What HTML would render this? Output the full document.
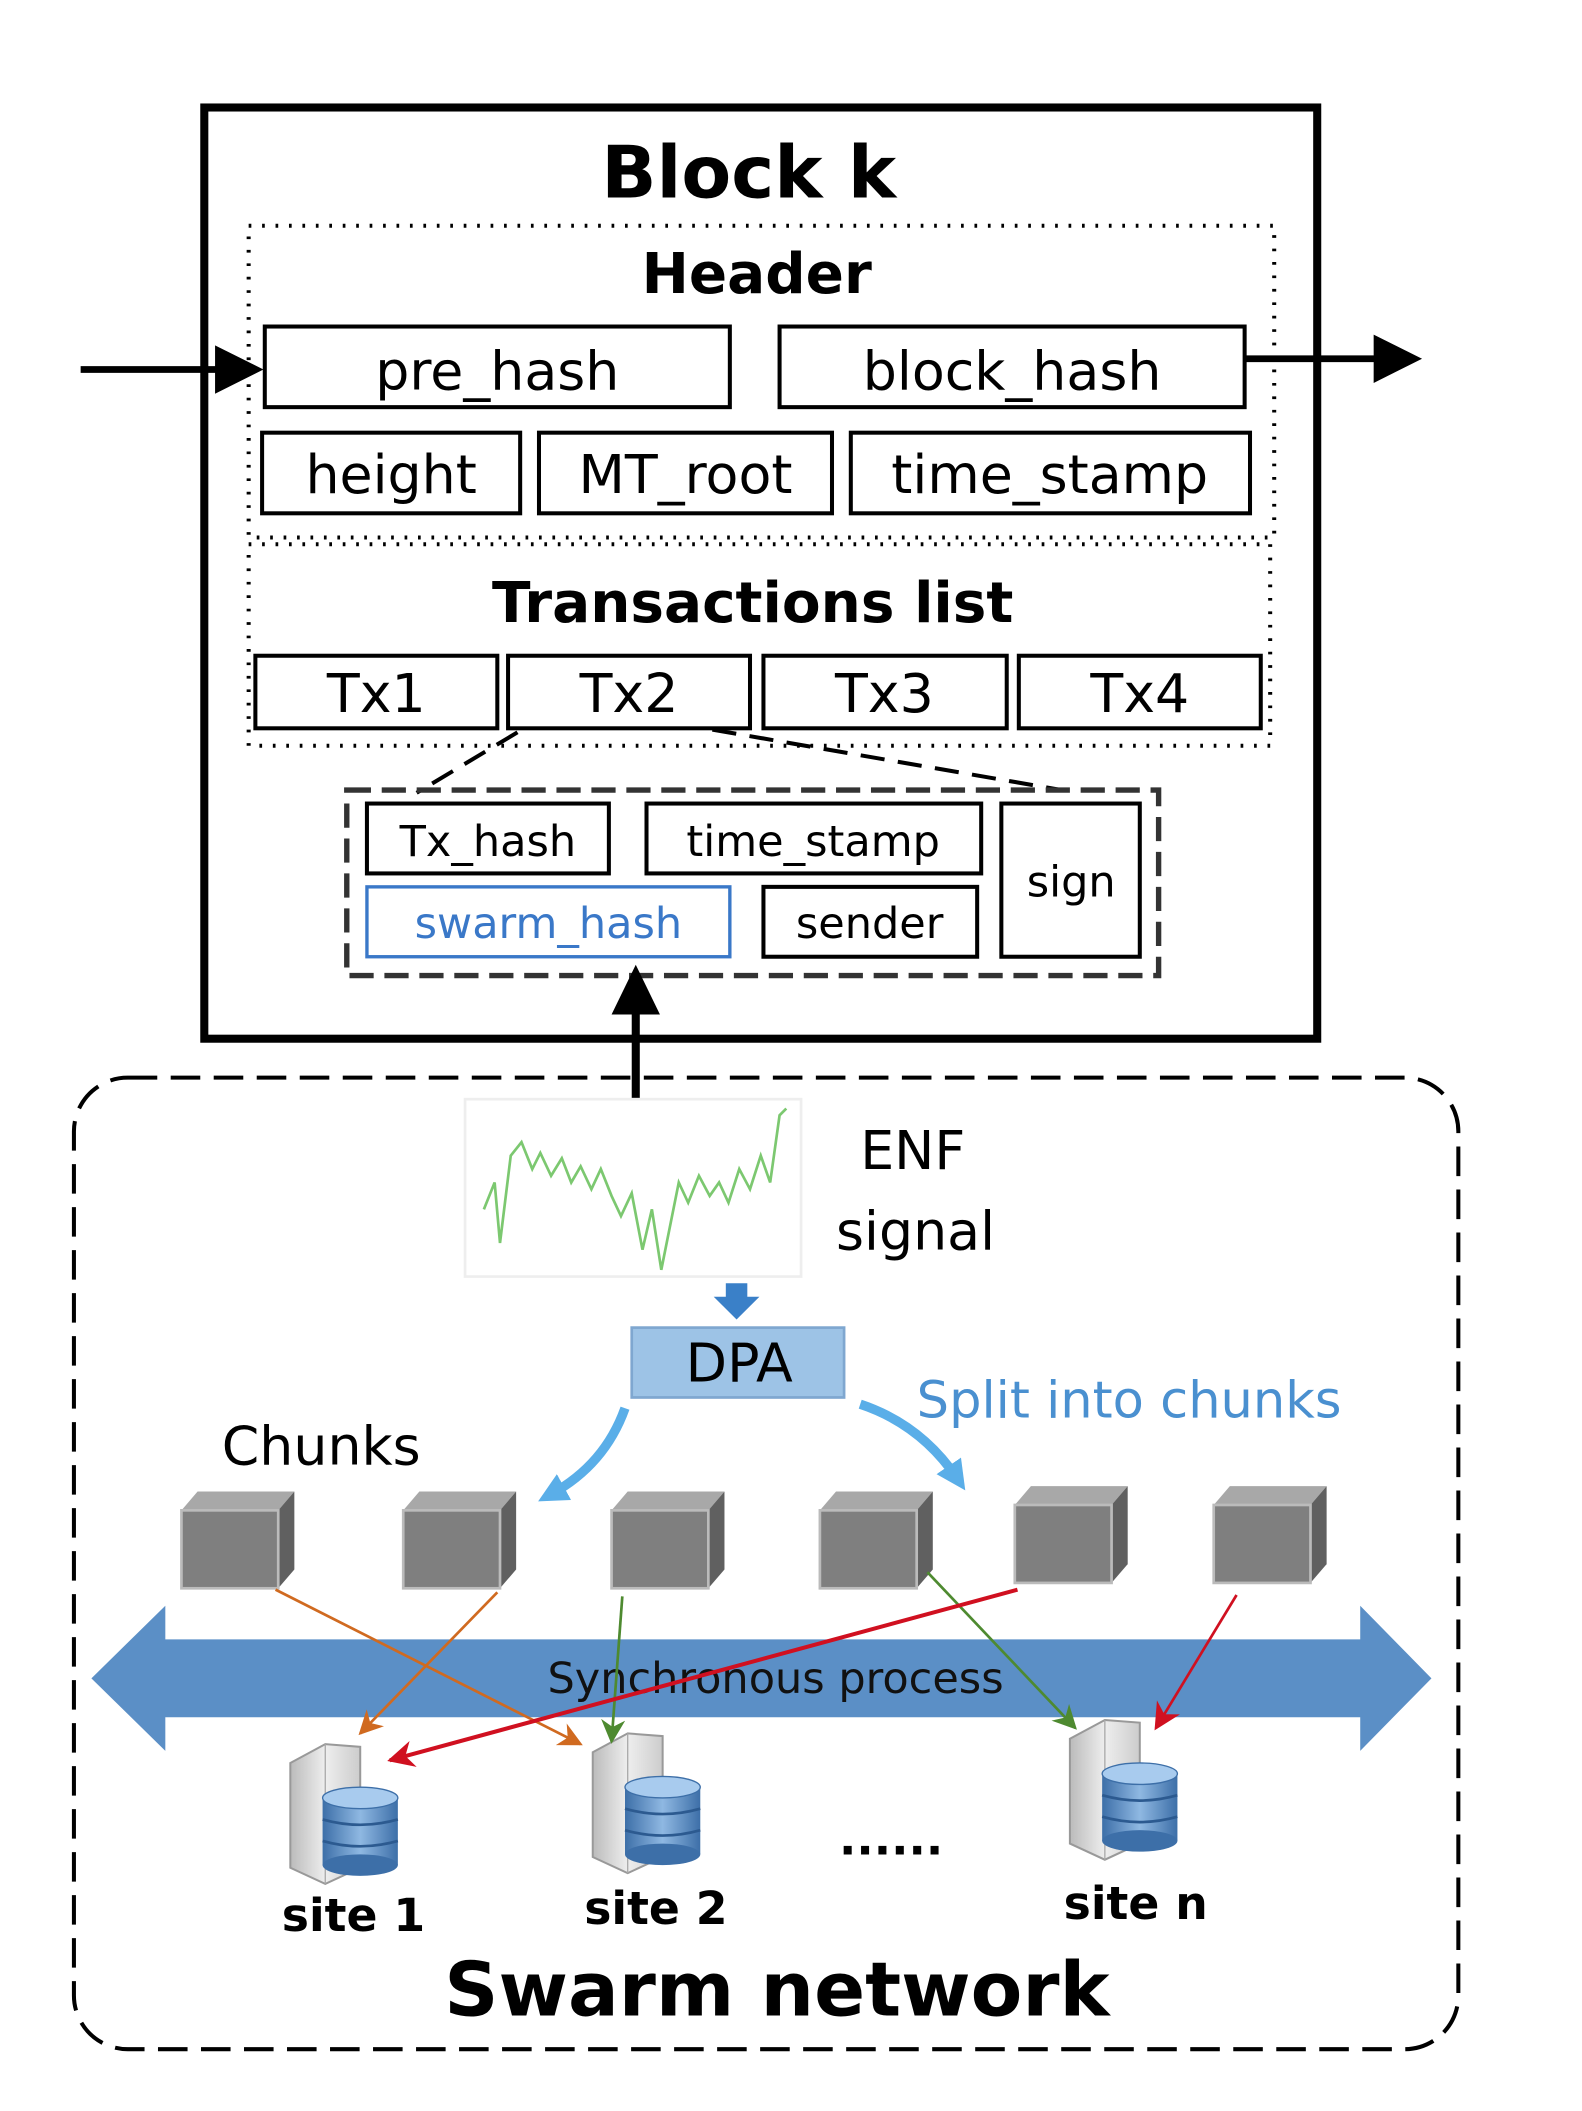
<!DOCTYPE html>
<html><head><meta charset="utf-8"><style>
html,body{margin:0;padding:0;background:#fff;}
svg{display:block;}
text{font-family:"DejaVu Sans","Liberation Sans",sans-serif;}
</style></head><body>
<svg width="1582" height="2111" viewBox="0 0 1177 1571" preserveAspectRatio="none" xmlns="http://www.w3.org/2000/svg">
<defs>
<marker id="mo" viewBox="0 0 10 10" refX="9" refY="5" markerWidth="18" markerHeight="18" orient="auto" markerUnits="userSpaceOnUse"><path d="M0,0 L10,5 L0,10 L3,5z" fill="#d06a20"/></marker>
<marker id="mg" viewBox="0 0 10 10" refX="9" refY="5" markerWidth="18" markerHeight="18" orient="auto" markerUnits="userSpaceOnUse"><path d="M0,0 L10,5 L0,10 L3,5z" fill="#4e8a30"/></marker>
<marker id="mr" viewBox="0 0 10 10" refX="9" refY="5" markerWidth="20" markerHeight="20" orient="auto" markerUnits="userSpaceOnUse"><path d="M0,0 L10,5 L0,10 L3,5z" fill="#d01020"/></marker>
<marker id="mb" viewBox="0 0 10 10" refX="5" refY="5" markerWidth="22" markerHeight="22" orient="auto" markerUnits="userSpaceOnUse"><path d="M0,0 L10,5 L0,10z" fill="#5aaee8"/></marker>
<linearGradient id="cyl" x1="0" x2="1"><stop offset="0" stop-color="#3d6fa8"/><stop offset=".5" stop-color="#8fb8e2"/><stop offset="1" stop-color="#3d6fa8"/></linearGradient>
<linearGradient id="srv" x1="0" x2="1"><stop offset="0" stop-color="#bbb"/><stop offset=".5" stop-color="#eee"/><stop offset="1" stop-color="#ccc"/></linearGradient>
<g id="cube"><path d="M0,14 L12,0 L84,0 L72,14z" fill="#a8a8a8"/><path d="M72,14 L84,0 L84,58 L72,72z" fill="#606060"/><rect x="0" y="14" width="72" height="58" fill="#7f7f7f" stroke="#bbb" stroke-width="2"/></g>
<g id="server"><path d="M4,22 L30,8 L56,10 L56,100 L30,112 L4,100z" fill="url(#srv)" stroke="#999" stroke-width="1.5"/><path d="M30,8 L30,112" stroke="#aaa"/><g><ellipse cx="56" cy="48" rx="28" ry="8" fill="#8fb8e2"/><rect x="28" y="48" width="56" height="50" fill="url(#cyl)"/><ellipse cx="56" cy="98" rx="28" ry="8" fill="#3d6fa8"/><path d="M28,64 Q56,72 84,64 M28,80 Q56,88 84,80" stroke="#2c5a90" fill="none" stroke-width="2"/><ellipse cx="56" cy="48" rx="28" ry="8" fill="#a8cbee" stroke="#3d6fa8"/></g></g>
</defs>

<rect x="152" y="80" width="828" height="693" fill="none" stroke="#000" stroke-width="6"/>
<text x="557" y="147" font-size="54" font-weight="bold" text-anchor="middle">Block k</text>
<rect x="185" y="168" width="763" height="232" fill="none" stroke="#000" stroke-width="3" stroke-dasharray="2,8"/>
<text x="563" y="218" font-size="42" font-weight="bold" text-anchor="middle">Header</text>
<g fill="#fff" stroke="#000" stroke-width="3">
<rect x="197" y="243" width="346" height="60"/><rect x="580" y="243" width="346" height="60"/>
<rect x="195" y="322" width="192" height="60"/><rect x="401" y="322" width="218" height="60"/><rect x="633" y="322" width="297" height="60"/>
</g>
<g font-size="40" text-anchor="middle">
<text x="370" y="290">pre_hash</text><text x="753" y="290">block_hash</text>
<text x="291" y="367">height</text><text x="510" y="367">MT_root</text><text x="781" y="367">time_stamp</text>
</g>
<line x1="60" y1="275" x2="170" y2="275" stroke="#000" stroke-width="5"/>
<path d="M160,257 L196,275 L160,293z" fill="#000"/>
<line x1="926" y1="267" x2="1030" y2="267" stroke="#000" stroke-width="5"/>
<path d="M1022,249 L1058,267 L1022,285z" fill="#000"/>

<rect x="185" y="405" width="760" height="150" fill="none" stroke="#000" stroke-width="3" stroke-dasharray="2,8"/>
<text x="560" y="463" font-size="42" font-weight="bold" text-anchor="middle">Transactions list</text>
<g fill="#fff" stroke="#000" stroke-width="3">
<rect x="190" y="488" width="180" height="54"/><rect x="378" y="488" width="180" height="54"/><rect x="568" y="488" width="181" height="54"/><rect x="758" y="488" width="180" height="54"/>
</g>
<g font-size="40" text-anchor="middle">
<text x="280" y="530">Tx1</text><text x="468" y="530">Tx2</text><text x="658" y="530">Tx3</text><text x="848" y="530">Tx4</text>
</g>
<line x1="385" y1="545" x2="310" y2="590" stroke="#000" stroke-width="3" stroke-dasharray="18,10"/>
<line x1="530" y1="543" x2="790" y2="588" stroke="#000" stroke-width="3" stroke-dasharray="18,10"/>
<rect x="258" y="588" width="604" height="138" fill="none" stroke="#333" stroke-width="4" stroke-dasharray="18,8"/>
<g fill="#fff" stroke="#000" stroke-width="3">
<rect x="273" y="598" width="180" height="52"/><rect x="481" y="598" width="249" height="52"/><rect x="745" y="598" width="103" height="114"/>
<rect x="568" y="660" width="159" height="52"/>
</g>
<rect x="273" y="660" width="270" height="52" fill="#fff" stroke="#3a78c8" stroke-width="2.5"/>
<g font-size="32" text-anchor="middle">
<text x="363" y="637">Tx_hash</text><text x="605" y="637">time_stamp</text><text x="797" y="667">sign</text>
<text x="408" y="698" fill="#3a78c8">swarm_hash</text><text x="647" y="698">sender</text>
</g>
<line x1="473" y1="818" x2="473" y2="740" stroke="#000" stroke-width="6"/>
<path d="M455,755 L473,718 L491,755z" fill="#000"/>

<rect x="55" y="802" width="1030" height="723" rx="40" fill="none" stroke="#000" stroke-width="3" stroke-dasharray="22,10"/>
<rect x="346" y="818" width="250" height="132" fill="#fff" stroke="#eee" stroke-width="2"/>
<polyline fill="none" stroke="#7cc870" stroke-width="2" points="360,900 368,880 372,925 380,860 388,850 396,870 402,858 410,875 418,862 425,880 432,868 440,885 447,870 455,890 462,905 470,888 478,930 485,900 492,945 498,915 505,880 512,895 520,875 528,890 535,880 542,895 550,870 558,885 566,860 573,880 580,830 585,825"/>
<text x="640" y="870" font-size="40">ENF</text>
<text x="622" y="930" font-size="40">signal</text>
<path d="M540,955 L556,955 L556,965 L565,965 L548,982 L531,965 L540,965z" fill="#3a80c8"/>
<rect x="470" y="988" width="158" height="52" fill="#9dc3e6" stroke="#7fa7d0" stroke-width="2"/>
<text x="550" y="1028" font-size="40" text-anchor="middle">DPA</text>
<text x="682" y="1055" font-size="38" fill="#4a90d0">Split into chunks</text>
<text x="165" y="1090" font-size="40">Chunks</text>
<path d="M465,1048 Q450,1090 410,1112" fill="none" stroke="#5aaee8" stroke-width="7" marker-end="url(#mb)"/>
<path d="M640,1045 Q685,1060 712,1100" fill="none" stroke="#5aaee8" stroke-width="7" marker-end="url(#mb)"/>

<use href="#cube" x="135" y="1110"/><use href="#cube" x="300" y="1110"/><use href="#cube" x="455" y="1110"/>
<use href="#cube" x="610" y="1110"/><use href="#cube" x="755" y="1106"/><use href="#cube" x="903" y="1106"/>

<path d="M68,1249 L123,1195 L123,1220 L1012,1220 L1012,1195 L1065,1249 L1012,1303 L1012,1278 L123,1278 L123,1303z" fill="#5b8fc6"/>
<text x="577" y="1260" font-size="32" text-anchor="middle" fill="#111">Synchronous process</text>

<use href="#server" x="212" y="1290"/><use href="#server" x="437" y="1282"/><use href="#server" x="792" y="1272"/>

<g stroke-width="2" fill="none">
<line x1="205" y1="1183" x2="432" y2="1298" stroke="#d06a20" marker-end="url(#mo)"/>
<line x1="370" y1="1185" x2="268" y2="1290" stroke="#d06a20" marker-end="url(#mo)"/>
<line x1="463" y1="1188" x2="455" y2="1296" stroke="#4e8a30" marker-end="url(#mg)"/>
<line x1="690" y1="1170" x2="800" y2="1286" stroke="#4e8a30" marker-end="url(#mg)"/>
<line x1="757" y1="1183" x2="290" y2="1310" stroke="#d01020" stroke-width="3" marker-end="url(#mr)"/>
<line x1="920" y1="1187" x2="860" y2="1286" stroke="#d01020" marker-end="url(#mr)"/>
</g>
<g font-size="34" font-weight="bold" text-anchor="middle">
<text x="263" y="1437">site 1</text><text x="488" y="1432">site 2</text><text x="663" y="1380">......</text><text x="845" y="1428">site n</text>
</g>
<text x="578" y="1500" font-size="56" font-weight="bold" text-anchor="middle">Swarm network</text>
</svg>
</body></html>
